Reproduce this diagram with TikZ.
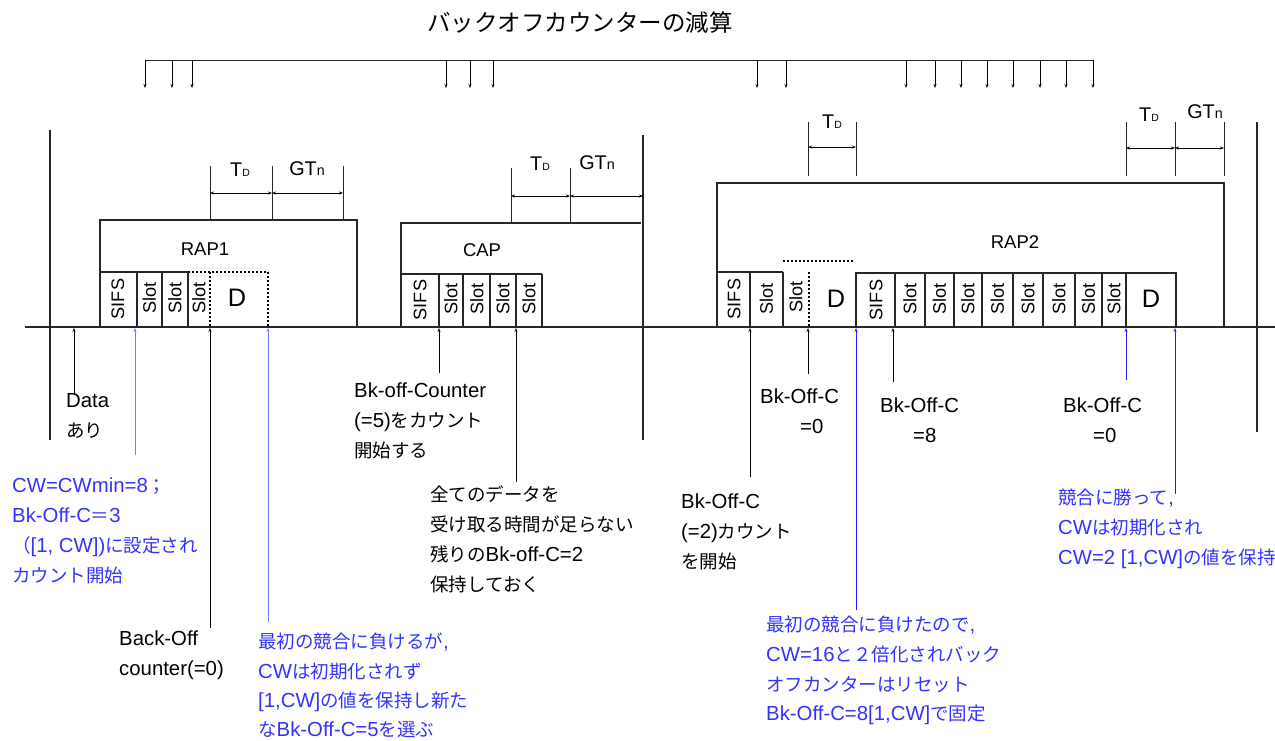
\documentclass[tikz,border=0pt]{standalone}
\usepackage{fontspec}
\setmainfont{Liberation Sans}[Scale=1.1]
\newfontfamily\jfont{Noto Sans CJK JP}
\newfontfamily\lfont{Liberation Sans}[Scale=1.1]
\XeTeXinterchartokenstate=1
\newXeTeXintercharclass\jclass
\newcount\jc
\jc="3000 \loop\XeTeXcharclass\jc=\jclass\relax \ifnum\jc<"30FF \advance\jc by 1 \repeat
\jc="4E00 \loop\XeTeXcharclass\jc=\jclass\relax \ifnum\jc<"9FFF \advance\jc by 1 \repeat
\jc="FF00 \loop\XeTeXcharclass\jc=\jclass\relax \ifnum\jc<"FFEF \advance\jc by 1 \repeat
\XeTeXinterchartoks 0 \jclass = {\jfont}
\XeTeXinterchartoks 4095 \jclass = {\jfont}
\XeTeXinterchartoks \jclass 0 = {\lfont}
\XeTeXinterchartoks \jclass 4095 = {\lfont}
\usetikzlibrary{arrows.meta}
\definecolor{bluetxt}{RGB}{51,51,255}
\definecolor{bluearrA}{RGB}{120,120,255}
\definecolor{bluearrB}{RGB}{30,30,255}
\newcommand\fl{\vphantom{あ}}
\begin{document}
\begin{tikzpicture}[x=1pt,y=-1pt,
  ln/.style={line width=1.1pt, draw=black!85},
  dotl/.style={line width=1.1pt, dash pattern=on 2pt off 2pt},
  dnar/.style={line width=0.8pt, -{Stealth[length=4pt,width=3pt]}},
  upar/.style={line width=0.8pt, -{Stealth[length=4pt,width=3pt]}},
  dim/.style={line width=0.8pt, {Stealth[length=4pt,width=3pt]}-{Stealth[length=4pt,width=3pt]}},
  lbl/.style={inner sep=0pt, anchor=north west, align=left, font=\fontsize{18.5}{29.7}\selectfont},
  bl/.style={lbl, text=bluetxt},
  slot/.style={rotate=90, inner sep=0pt, font=\fontsize{16.5}{16.5}\selectfont},
  big/.style={inner sep=0pt, font=\fontsize{23}{23}\selectfont},
  area/.style={inner sep=0pt, font=\fontsize{16.8}{16.8}\selectfont},
  dimlbl/.style={inner sep=0pt, font=\fontsize{18}{18}\selectfont}
]
\useasboundingbox (0,0) rectangle (1275,740);
\newcommand\TD{T{\fontsize{9.5}{9.5}\selectfont D}}
\newcommand\GTn{GT{\fontsize{13}{13}\selectfont n}}

% title
\node[inner sep=0pt, font=\fontsize{23.5}{23.5}\selectfont] (title) at (580,23) {バックオフカウンターの減算};

% counter decrement arrows
\coordinate (cL) at (145,60); \coordinate (cR) at (1093,60);
\draw[ln, line width=0.9pt] (cL) -- (cR);
\foreach \x [count=\i] in {145,172,192,446,470,493,757,786,906,935,961,987,1013,1040,1066,1093} {
  \coordinate (dt\i) at (\x,60); \coordinate (db\i) at (\x,88);
  \draw[dnar] (dt\i) -- (db\i);
}

% timeline and frame lines
\coordinate (tl0) at (25,327); \coordinate (tl1) at (1275,327);
\draw[ln] (tl0) -- (tl1);
\coordinate (f1a) at (50,130);  \coordinate (f1b) at (50,440);
\coordinate (f2a) at (643,135); \coordinate (f2b) at (643,440);
\coordinate (f3a) at (1257,122); \coordinate (f3b) at (1257,432);
\draw[ln] (f1a) -- (f1b);
\draw[ln] (f2a) -- (f2b);
\draw[ln] (f3a) -- (f3b);

% ---------- RAP1 ----------
\draw[ln] (100,327) -- (100,220) -- (357,220) -- (357,327);
\node[area] (rap1) at (205,249) {RAP1};
\draw[ln] (100,272) -- (188,272);
\draw[dotl] (188,272) -- (268,272);
\foreach \x in {137,162,188} \draw[ln] (\x,272) -- (\x,327);
\draw[dotl] (210,272) -- (210,327);
\draw[dotl] (268,272) -- (268,327);
\node[slot] (r1s0) at (118,299) {SIFS};
\node[slot] (r1s1) at (149.5,298) {Slot};
\node[slot] (r1s2) at (175,298) {Slot};
\node[slot] (r1s3) at (199,298) {Slot};
\node[big] (r1d) at (237,298) {D};
% TD / GTn
\foreach \x in {210,272,343} \draw[ln, line width=0.9pt] (\x,166) -- (\x,220);
\coordinate (r1a) at (210,193); \coordinate (r1b) at (272,193); \coordinate (r1c) at (343,193);
\draw[dim] (r1a) -- (r1b);
\draw[dim] (r1b) -- (r1c);
\node[dimlbl] (r1td) at (240,170) {\TD};
\node[dimlbl] (r1gt) at (307,169) {\GTn};

% ---------- CAP ----------
\draw[ln] (401,327) -- (401,223) -- (641,223);
\node[area] (cap) at (482,250) {CAP};
\draw[ln] (401,274) -- (542,274);
\foreach \x in {439,463,490,516,542} \draw[ln] (\x,274) -- (\x,327);
\node[slot] (cs0) at (420,300) {SIFS};
\node[slot] (cs1) at (451,299) {Slot};
\node[slot] (cs2) at (477,299) {Slot};
\node[slot] (cs3) at (503,299) {Slot};
\node[slot] (cs4) at (529,299) {Slot};
\foreach \x in {511,570} \draw[ln, line width=0.9pt] (\x,168) -- (\x,223);
\coordinate (ca) at (511,196); \coordinate (cb) at (570,196); \coordinate (cc) at (643,196);
\draw[dim] (ca) -- (cb);
\draw[dim] (cb) -- (cc);
\node[dimlbl] (ctd) at (540,164) {\TD};
\node[dimlbl] (cgt) at (597,163) {\GTn};

% ---------- RAP2 ----------
\draw[ln] (717,327) -- (717,183) -- (1224,183) -- (1224,327);
\node[area] (rap2) at (1015,242) {RAP2};
\draw[ln] (717,272) -- (783,272);
\foreach \x in {750,783} \draw[ln] (\x,272) -- (\x,327);
\draw[dotl] (783,261) -- (853,261);
\draw[dotl] (809,272) -- (809,327);
\node[slot] (r2s0) at (734,299) {SIFS};
\node[slot] (r2s1) at (766.5,299) {Slot};
\node[slot] (r2s2) at (796,297) {Slot};
\node[big] (r2d1) at (836,299) {D};
\draw[ln] (856,327) -- (856,273) -- (1176,273) -- (1176,327);
\foreach \x in {895,925,954,982,1013,1043,1075,1102,1126} \draw[ln] (\x,273) -- (\x,327);
\node[slot] (r2t0) at (876,300) {SIFS};
\foreach \c [count=\i] in {910,939.5,968,997.5,1028,1059,1088.5,1114}
  \node[slot] (r2t\i) at (\c,299) {Slot};
\node[big] (r2d2) at (1151,299) {D};
% TD left
\foreach \x in {808,856} \draw[ln, line width=0.9pt] (\x,122) -- (\x,176);
\coordinate (r2a) at (808,147); \coordinate (r2b) at (856,147);
\draw[dim] (r2a) -- (r2b);
\node[dimlbl] (r2td) at (832,122) {\TD};
% TD / GTn right
\foreach \x in {1126,1175,1224} \draw[ln, line width=0.9pt] (\x,122) -- (\x,176);
\coordinate (r2c) at (1126,148); \coordinate (r2d) at (1175,148); \coordinate (r2e) at (1224,148);
\draw[dim] (r2c) -- (r2d);
\draw[dim] (r2d) -- (r2e);
\node[dimlbl] (r2td2) at (1149,115) {\TD};
\node[dimlbl] (r2gt) at (1205,112) {\GTn};

% ---------- upward event arrows ----------
\foreach \x/\y/\c [count=\i] in {74/395/black, 135/455/bluearrA, 210/628/black, 268/622/bluearrA,
   439/373/black, 516/482/black, 750/477/black, 808/374/black, 856/610/bluearrB,
   893/382/black, 1126/380/bluearrB, 1175/494/bluearrB} {
  \coordinate (uf\i) at (\x,\y); \coordinate (uh\i) at (\x,328);
  \draw[upar, draw=\c] (uf\i) -- (uh\i);
}

% ---------- labels ----------
\node[lbl] (data) at (66,393) {\fl Data\\あり};
\node[bl] (cwmin) at (12,478) {\fl CW=CWmin=8；\\Bk-Off-C＝3\\（{[}1, CW{]})に設定され\\カウント開始};
\node[lbl] (boc) at (119,631) {\fl Back-Off\\counter(=0)};
\node[bl, font=\fontsize{18.5}{29.2}\selectfont] (lose1) at (258,633) {\fl 最初の競合に負けるが,\\CWは初期化されず\\{[}1,CW{]}の値を保持し新た\\なBk-Off-C=5を選ぶ};
\node[lbl] (bkcnt) at (354,383) {\fl Bk-off-Counter\\(=5)をカウント\\開始する};
\node[lbl] (zen) at (430,486) {\fl 全てのデータを\\受け取る時間が足らない\\残りのBk-off-C=2\\保持しておく};
\node[lbl] (bk2) at (681,494) {\fl Bk-Off-C\\(=2)カウント\\を開始};
\node[lbl] (bk0a) at (760,389) {\fl Bk-Off-C\\\hspace*{40pt}=0};
\node[lbl] (bk8) at (880,398) {\fl Bk-Off-C\\\hspace*{33pt}=8};
\node[bl] (lose2) at (766,616) {\fl 最初の競合に負けたので,\\CW=16と２倍化されバック\\オフカンターはリセット\\Bk-Off-C=8{[}1,CW{]}で固定};
\node[lbl] (bk0b) at (1063,398) {\fl Bk-Off-C\\\hspace*{30pt}=0};
\node[bl] (win) at (1058,489) {\fl 競合に勝って,\\CWは初期化され\\CW=2 {[}1,CW{]}の値を保持};
\end{tikzpicture}
\end{document}
